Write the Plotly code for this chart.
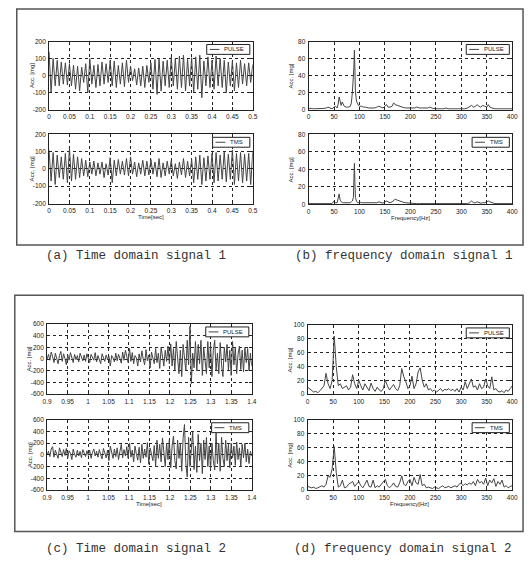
import plotly.graph_objects as go

W, H = 531, 566

# ---------------- data ----------------
# (a) time domain signal 1, 0 .. 0.5 s
sig1_pulse = [140, -100, 100, -60, 90, -60, 80, -50, 75, -55,
              70, -60, 60, -80, 55, -90, 50, -40, 70, -100,
              100, -50, 60, -70, 65, -60, 80, -50, 70, -40,
              90, -60, 85, -70, 60, -50, 75, -65, 90, -40,
              55, -30, 40, -55, 45, -60, 55, -70, 60, -40,
              75, -80, 95, -110, 100, -90, 85, -60, 90, -70,
              110, -60, 100, -80, 115, -70, 120, -90, 95, -60,
              105, -100, 110, -80, 120, -130, 85, -60, 110, -70,
              90, -80, 115, -60, 100, -70, 90, -100, 80, -60,
              85, -90, 75, -70, 90, -50, 70, -60, 75, -40, 65]
sig1_tms = [110, -70, 95, -90, 80, -50, 70, -60, 90, -80,
            120, -70, 85, -60, 70, -50, 60, -40, 50, -45,
            40, -30, 45, -40, 35, -30, 40, -50, 30, -35,
            65, -80, 50, -40, 55, -30, 45, -35, 60, -40,
            70, -30, 40, -45, 35, -30, 50, -40, 45, -35,
            55, -30, 40, -45, 60, -50, 35, -40, 45, -30,
            50, -40, 30, -55, 40, -35, 60, -50, 45, -40,
            55, -80, 70, -60, 80, -90, 65, -70, 75, -60,
            90, -80, 95, -70, 80, -60, 100, -75, 85, -60,
            110, -90, 90, -70, 95, -80, 85, -70, 90, -90, 100]

# (c) time domain signal 2, 0.9 .. 1.4 s
sig2_pulse = [0, 80, -20, 120, 40, -60, 100, 20, -80, 60,
              130, -40, 90, 10, -100, 70, -20, 110, 30, -60,
              80, -10, 60, -50, 100, 20, -30, 70, -40, 90,
              10, -60, 80, 30, -20, 110, -50, 60, 0, -80,
              90, 20, -40, 70, -10, 50, -120, 60, 20, -50,
              100, -30, 80, 10, -70, 120, -20, 150, 40, -60,
              180, -40, 110, -80, 60, 20, -120, 90, -50, 140,
              0, -100, 160, -30, 70, -150, 120, 40, -80, 180,
              -60, 100, -160, 200, 30, -120, 150, -40, 220, -80,
              260, -120, 180, -200, 300, -60, -250, 150, -300, 250,
              20, -200, 320, -100, 560, -420, 100, -150, 300, -200,
              250, -80, 320, -280, 200, -100, -250, 300, -150, 260,
              -300, 150, 320, -200, 100, -250, 280, -100, -300, 200,
              -50, 250, -200, 150, -280, 300, -100, 200, -250, 80,
              220, -180, 150, -220, 200, -60, 180, -200, 100, -120]
sig2_tms = [0, 60, -30, 100, 140, -40, 80, 20, -60, 120,
            50, -30, 90, -10, 110, -60, 70, 30, -80, 100,
            10, -40, 80, -20, 60, -50, 90, 20, -30, 70,
            -10, 80, -60, 40, 100, -20, 60, -40, 90, 0,
            -70, 110, 30, -50, 80, -100, 150, 20, -60, 100,
            -30, 120, -80, 60, 180, -50, 90, -20, 140, -60,
            200, -40, 80, -120, 150, 10, -90, 130, -140, 180,
            -60, 100, -40, 210, -160, 120, 20, -100, 160, -200,
            250, -60, 180, -120, 290, -30, -200, 200, -80, 260,
            -220, 150, 320, -100, -240, 250, -60, 200, -280, 280,
            520, -150, -380, 300, -200, 100, 400, -250, 150, -300,
            350, -100, 200, -320, 250, -80, 300, -200, 150, -250,
            200, -100, -260, 380, -150, 200, -280, 300, -60, -200,
            250, -100, 180, -220, 200, -50, 150, -180, 220, -80,
            120, -200, 180, -50, 200, -120, 100, -150, 60, -20]

# (b) frequency domain signal 1
freq1 = [0, 5, 10, 15, 20, 25, 30, 35, 38, 42,
         46, 50, 53, 56, 58, 60, 62, 64, 66, 68,
         70, 74, 78, 82, 84, 86, 88, 89, 90, 91,
         92, 94, 96, 98, 100, 104, 108, 112, 118, 124,
         130, 134, 138, 142, 146, 150, 153, 156, 160, 164,
         167, 170, 174, 178, 184, 190, 196, 202, 208, 212,
         218, 224, 230, 234, 238, 244, 250, 258, 266, 270,
         274, 282, 290, 298, 306, 312, 316, 320, 324, 328,
         331, 334, 338, 342, 346, 350, 353, 356, 360, 366,
         372, 380, 388, 394, 400]
spec1_pulse = [1, 1.5, 1, 1, 1.5, 1, 1.5, 2, 3, 2,
               1, 3, 4, 2, 6, 15, 10, 5, 9, 6,
               4, 3, 3, 4, 8, 20, 35, 50, 70, 45,
               22, 10, 6, 5, 4, 4, 3, 3, 2, 2,
               2, 3, 4, 3, 2, 4, 6, 3, 3, 4,
               8, 6, 5, 4, 3, 2, 2, 1.5, 2, 3,
               2, 2, 1.5, 2, 3, 1.5, 1, 1, 1, 2,
               1, 1, 1, 1, 1, 2, 4, 5, 3, 4,
               6, 4, 3, 5, 4, 3, 6, 3, 2, 1,
               1, 1, 1, 1, 1]
spec1_tms = [1, 1, 1, 1, 1, 1, 1, 1, 1, 1,
             1, 4, 2, 2, 6, 12, 5, 3, 2, 2,
             2, 1.5, 2, 2, 3, 4, 8, 20, 47, 25,
             8, 4, 2, 2, 3, 2, 2, 2, 1.5, 1.5,
             1.5, 2, 3, 2, 1.5, 3, 4, 3, 2, 3,
             5, 6, 5, 4, 3, 2, 1.5, 1, 1, 1,
             1, 1, 1, 1, 1, 1, 1, 1, 1, 1,
             1, 1, 1, 1, 1, 1, 2, 4, 2, 2,
             3, 2, 1.5, 2, 2, 3, 4, 3, 2, 1,
             1, 1, 1, 1, 1]

# (d) frequency domain signal 2 (4 Hz bins, 0 .. 400 Hz)
freq2 = [0, 4, 8, 12, 16, 20, 24, 28, 32, 36,
         40, 44, 48, 52, 56, 60, 64, 68, 72, 76,
         80, 84, 88, 92, 96, 100, 104, 108, 112, 116,
         120, 124, 128, 132, 136, 140, 144, 148, 152, 156,
         160, 164, 168, 172, 176, 180, 184, 188, 192, 196,
         200, 204, 208, 212, 216, 220, 224, 228, 232, 236,
         240, 244, 248, 252, 256, 260, 264, 268, 272, 276,
         280, 284, 288, 292, 296, 300, 304, 308, 312, 316,
         320, 324, 328, 332, 336, 340, 344, 348, 352, 356,
         360, 364, 368, 372, 376, 380, 384, 388, 392, 396, 400]
spec2_pulse = [10, 8, 5, 3, 4, 2, 5, 8, 12, 30,
               15, 8, 20, 84, 40, 12, 15, 8, 10, 12,
               6, 10, 28, 15, 8, 20, 12, 6, 15, 10,
               5, 16, 8, 4, 10, 6, 4, 8, 20, 12,
               6, 10, 14, 8, 5, 12, 37, 25, 18, 8,
               12, 26, 8, 15, 32, 38, 20, 10, 15, 6,
               8, 4, 6, 3, 5, 8, 4, 7, 6, 8,
               5, 7, 4, 8, 3, 10, 6, 18, 8, 14,
               22, 10, 12, 6, 15, 8, 10, 22, 12, 8,
               25, 6, 8, 4, 3, 5, 2, 6, 4, 8, 12]
spec2_tms = [5, 4, 3, 4, 2, 3, 5, 6, 4, 8,
             20, 18, 30, 62, 25, 4, 6, 14, 3, 4,
             8, 10, 12, 5, 8, 12, 6, 3, 8, 14,
             5, 4, 14, 3, 6, 4, 8, 12, 15, 6,
             3, 6, 10, 5, 4, 10, 20, 8, 6, 12,
             15, 6, 18, 10, 8, 22, 6, 8, 3, 4,
             3, 2, 4, 3, 2, 4, 6, 3, 4, 5,
             3, 5, 6, 4, 8, 10, 6, 9, 7, 10,
             8, 12, 6, 15, 10, 12, 8, 17, 6, 14,
             10, 16, 5, 12, 8, 14, 4, 6, 3, 5, 6]

# tick labels
yticks_a = [-200, -100, 0, 100, 200]
yticks_c = [-600, -400, -200, 0, 200, 400, 600]
yticks_b = [0, 20, 40, 60, 80]
yticks_d = [0, 20, 40, 60, 80, 100]

captions = ["(a) Time domain signal 1", "(b) frequency domain signal 1",
            "(c) Time domain signal 2", "(d) frequency domain signal 2"]

# ---------------- layout helpers ----------------
def px(x):
    return x / W

def py(y):
    return 1 - y / H

def tgrid(n, start, span):
    return [start + span * i / (n - 1) for i in range(n)]

panels = [
    dict(box=(45, 253, 38, 107), x=tgrid(len(sig1_pulse), 0, 0.5), y=sig1_pulse,
         xr=[0, 0.5], xd=0.05, yr=[-200, 200], yt=yticks_a, lab="PULSE", xt=None),
    dict(box=(45, 253, 132, 202), x=tgrid(len(sig1_tms), 0, 0.5), y=sig1_tms,
         xr=[0, 0.5], xd=0.05, yr=[-200, 200], yt=yticks_a, lab="TMS", xt="Time[sec]"),
    dict(box=(310, 518, 38, 107), x=freq1, y=spec1_pulse,
         xr=[0, 400], xd=50, yr=[0, 80], yt=yticks_b, lab="PULSE", xt=None),
    dict(box=(310, 518, 132, 203), x=freq1, y=spec1_tms,
         xr=[0, 400], xd=50, yr=[0, 80], yt=yticks_b, lab="TMS", xt="Frequency[Hz]"),
    dict(box=(43, 252, 324, 395), x=tgrid(len(sig2_pulse), 0.9, 0.5), y=sig2_pulse,
         xr=[0.9, 1.4], xd=0.05, yr=[-600, 600], yt=yticks_c, lab="PULSE", xt=None),
    dict(box=(43, 252, 421, 492), x=tgrid(len(sig2_tms), 0.9, 0.5), y=sig2_tms,
         xr=[0.9, 1.4], xd=0.05, yr=[-600, 600], yt=yticks_c, lab="TMS", xt="Time[sec]"),
    dict(box=(309, 518, 325, 395), x=freq2, y=spec2_pulse,
         xr=[0, 400], xd=50, yr=[0, 100], yt=yticks_d, lab="PULSE", xt=None),
    dict(box=(309, 518, 421, 492), x=freq2, y=spec2_tms,
         xr=[0, 400], xd=50, yr=[0, 100], yt=yticks_d, lab="TMS", xt="Frequency[Hz]"),
]

fig = go.Figure()
layout = dict(width=W, height=H, margin=dict(l=0, r=0, t=0, b=0),
              paper_bgcolor="white", plot_bgcolor="white", showlegend=False,
              font=dict(family="Liberation Sans, Arial", size=6, color="#222"))
shapes, annots = [], []

tickfont = dict(family="Liberation Sans, Arial", size=6.5, color="#222")

for i, p in enumerate(panels):
    n = i + 1
    xa = "xaxis" if n == 1 else f"xaxis{n}"
    ya = "yaxis" if n == 1 else f"yaxis{n}"
    x0, x1, y0, y1 = p["box"]
    fig.add_trace(go.Scatter(x=p["x"], y=p["y"], mode="lines",
                             line=dict(color="#444", width=1),
                             xaxis=f"x{n}" if n > 1 else "x",
                             yaxis=f"y{n}" if n > 1 else "y",
                             hoverinfo="skip"))
    common = dict(showline=True, linecolor="#222", linewidth=1, mirror="allticks",
                  ticks="inside", ticklen=3, tickcolor="#222", tickwidth=1,
                  showgrid=True, gridcolor="#222", griddash="dot", gridwidth=0.8,
                  zeroline=False, tickfont=tickfont, fixedrange=True)
    layout[xa] = dict(domain=[px(x0), px(x1)], range=p["xr"], tick0=p["xr"][0],
                      dtick=p["xd"], anchor=f"y{n}" if n > 1 else "y",
                      ticklabelstandoff=1, **common)
    layout[ya] = dict(domain=[py(y1), py(y0)], range=p["yr"],
                      tickmode="array", tickvals=p["yt"],
                      ticktext=[str(v) for v in p["yt"]],
                      anchor=f"x{n}" if n > 1 else "x",
                      ticklabelstandoff=1, **common)
    annots.append(dict(text="Acc. [mg]", x=px(x0 - 18), y=py((y0 + y1) / 2),
                       xref="paper", yref="paper", textangle=-90, showarrow=False,
                       font=dict(size=6, color="#222"), xanchor="center", yanchor="middle"))
    if p["xt"]:
        annots.append(dict(text=p["xt"], x=px((x0 + x1) / 2), y=py(y1 + 14),
                           xref="paper", yref="paper", showarrow=False,
                           font=dict(size=6, color="#222"), xanchor="center", yanchor="middle"))
    bw = 44 if p["lab"] == "PULSE" else 38
    bx1 = x1 - 3
    bx0 = bx1 - bw
    by0 = y0 + 3
    by1 = by0 + 10
    shapes.append(dict(type="rect", xref="paper", yref="paper",
                       x0=px(bx0), x1=px(bx1), y0=py(by1), y1=py(by0),
                       line=dict(color="#222", width=1), fillcolor="white", layer="above"))
    shapes.append(dict(type="line", xref="paper", yref="paper",
                       x0=px(bx0 + 3), x1=px(bx0 + 13), y0=py(by0 + 5), y1=py(by0 + 5),
                       line=dict(color="#444", width=1), layer="above"))
    annots.append(dict(text=p["lab"], x=px(bx0 + 16), y=py(by0 + 5), xref="paper",
                       yref="paper", showarrow=False, xanchor="left", yanchor="middle",
                       font=dict(size=6, color="#222")))

for (fx0, fx1, fy0, fy1) in [(12, 529, 5, 244), (10, 529, 295, 534)]:
    shapes.append(dict(type="rect", xref="paper", yref="paper",
                       x0=px(fx0), x1=px(fx1), y0=py(fy1), y1=py(fy0),
                       line=dict(color="#555", width=1.5), layer="below"))

cap_pos = [(134, 255), (407, 255), (134, 552), (406, 552)]
for txt, (cx, cy) in zip(captions, cap_pos):
    annots.append(dict(text=txt, x=px(cx), y=py(cy), xref="paper", yref="paper",
                       showarrow=False, xanchor="center", yanchor="middle",
                       font=dict(family="Liberation Mono, DejaVu Sans Mono", size=12.5,
                                 color="#333")))

layout["shapes"] = shapes
layout["annotations"] = annots
fig.update_layout(**layout)
fig.write_html("out.html", config={"displayModeBar": False},
               post_script="document.body.style.margin='0';document.body.style.overflow='hidden';")
